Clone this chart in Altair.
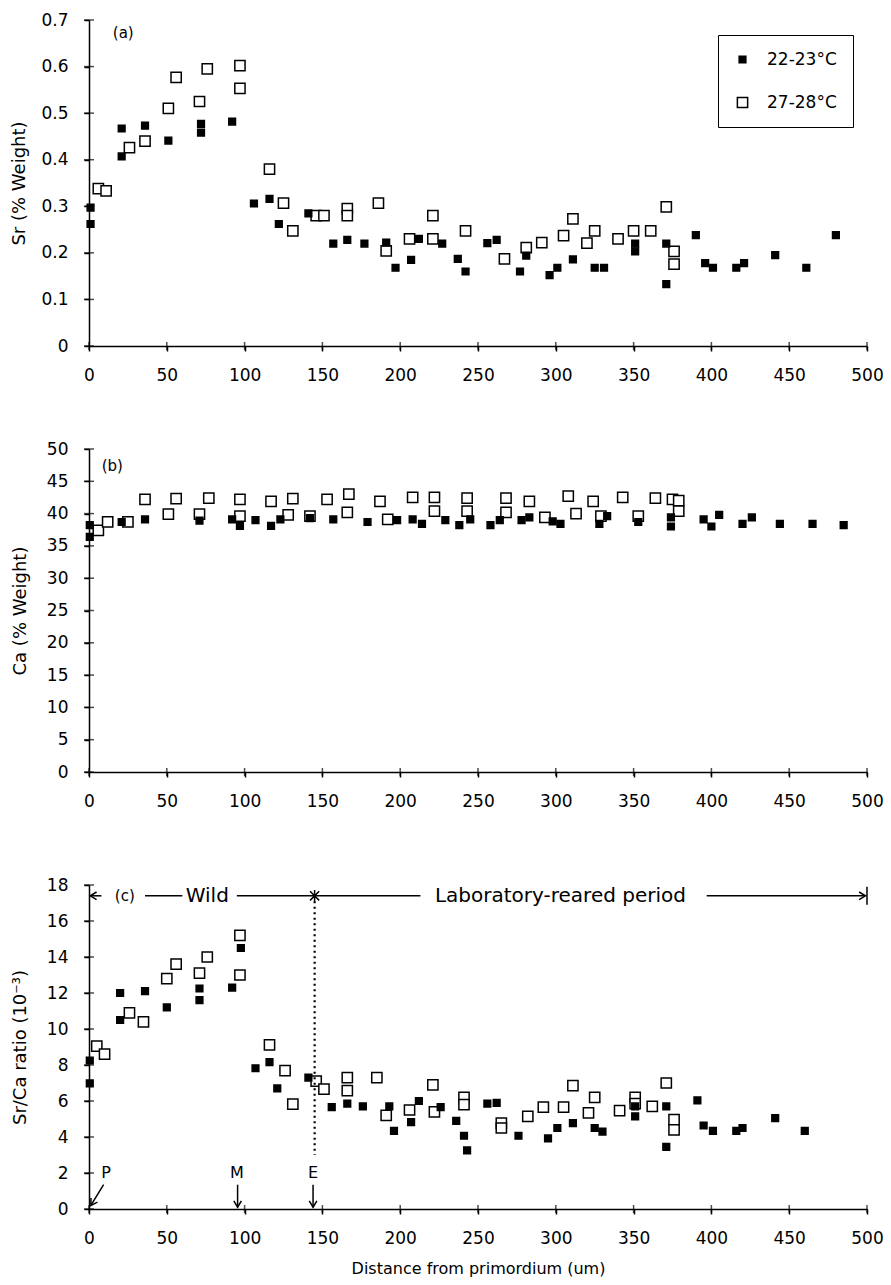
import altair as alt
import pandas as pd

FONT = "DejaVu Sans"
SERIES = ["22-23°C", "27-28°C"]

X_TICKS = [0, 50, 100, 150, 200, 250, 300, 350, 400, 450, 500]
A_TICKS = [0, 0.1, 0.2, 0.3, 0.4, 0.5, 0.6, 0.7]
B_TICKS = [0, 5, 10, 15, 20, 25, 30, 35, 40, 45, 50]
C_TICKS = [0, 2, 4, 6, 8, 10, 12, 14, 16, 18]

# ---------------- panel (a): Sr (% weight) ----------------
a_cool_x = [1, 1, 21, 21, 36, 51, 72, 72, 92, 106, 116, 122, 141, 157, 166, 177, 191, 197, 207, 212,
            227, 237, 242, 256, 262, 277, 281, 296, 301, 311, 325, 331, 351, 351, 371, 371, 390, 396,
            401, 416, 421, 441, 461, 480]
a_cool_y = [0.297, 0.262, 0.467, 0.407, 0.473, 0.441, 0.477, 0.458, 0.482, 0.306, 0.316, 0.262, 0.285,
            0.22, 0.228, 0.22, 0.222, 0.168, 0.185, 0.23, 0.22, 0.187, 0.16, 0.221, 0.228, 0.16, 0.194,
            0.152, 0.168, 0.186, 0.168, 0.168, 0.22, 0.203, 0.22, 0.133, 0.238, 0.178, 0.168, 0.168,
            0.178, 0.195, 0.168, 0.238]
a_warm_x = [6, 11, 26, 36, 51, 56, 71, 76, 97, 97, 116, 125, 131, 146, 151, 166, 166, 186, 191, 206,
            221, 221, 242, 267, 281, 291, 305, 311, 320, 325, 340, 350, 361, 371, 376, 376]
a_warm_y = [0.338, 0.333, 0.426, 0.44, 0.51, 0.577, 0.525, 0.595, 0.602, 0.553, 0.38, 0.307, 0.247,
            0.28, 0.28, 0.295, 0.28, 0.307, 0.204, 0.23, 0.28, 0.23, 0.247, 0.187, 0.211, 0.222, 0.237,
            0.273, 0.221, 0.247, 0.23, 0.247, 0.247, 0.299, 0.203, 0.176]

# ---------------- panel (b): Ca (% weight) ----------------
b_cool_x = [0.5, 0.5, 21, 36, 71, 92, 97, 107, 117, 123, 142, 157, 179, 198, 208, 214, 229, 238, 245,
            258, 264, 278, 283, 298, 303, 328, 333, 353, 374, 374, 395, 400, 405, 420, 426, 444, 465, 485]
b_cool_y = [38.2, 36.4, 38.7, 39.1, 38.9, 39.1, 38.1, 39, 38.1, 39.1, 39.3, 39.1, 38.7, 39, 39.1, 38.4,
            39, 38.2, 39.1, 38.2, 39, 39, 39.4, 38.8, 38.4, 38.4, 39.6, 38.7, 39.4, 38, 39.1, 38, 39.8,
            38.4, 39.4, 38.4, 38.4, 38.2]
b_warm_x = [6, 12, 25, 36, 51, 56, 71, 77, 97, 97, 117, 128, 131, 142, 153, 167, 166, 187, 192, 208,
            222, 222, 243, 243, 268, 268, 283, 293, 308, 313, 324, 329, 343, 353, 364, 375, 379, 379]
b_warm_y = [37.4, 38.7, 38.7, 42.2, 39.9, 42.3, 39.9, 42.4, 42.2, 39.6, 41.9, 39.8, 42.3, 39.6, 42.2,
            43, 40.2, 41.9, 39.1, 42.5, 42.5, 40.4, 42.4, 40.4, 42.4, 40.2, 41.9, 39.4, 42.7, 40, 41.9,
            39.6, 42.5, 39.6, 42.4, 42.2, 42, 40.4]

# ---------------- panel (c): Sr/Ca ratio ----------------
c_cool_x = [0.5, 0.5, 20, 20, 36, 50, 71, 71, 92, 97.6, 107, 116, 121, 141, 156, 166, 176, 193, 196,
            207, 212, 226, 236, 241, 243, 256, 262, 276, 295, 301, 311, 325, 330, 351, 351, 371, 371,
            391, 395, 401, 416, 420, 441, 460]
c_cool_y = [8.25, 6.98, 12.0, 10.5, 12.1, 11.2, 12.25, 11.6, 12.3, 14.5, 7.82, 8.16, 6.7, 7.3, 5.66,
            5.85, 5.7, 5.7, 4.34, 4.83, 6.0, 5.66, 4.9, 4.07, 3.26, 5.85, 5.9, 4.07, 3.92, 4.5, 4.77,
            4.5, 4.3, 5.7, 5.15, 5.7, 3.45, 6.04, 4.64, 4.34, 4.34, 4.5, 5.05, 4.34]
c_warm_x = [5, 10, 26, 35, 50, 56, 71, 76, 97, 97, 116, 126, 131, 146, 151, 166, 166, 185, 191, 206,
            221, 222, 241, 241, 265, 265, 282, 292, 305, 311, 321, 325, 341, 351, 351, 362, 371, 376, 376]
c_warm_y = [9.05, 8.6, 10.9, 10.4, 12.8, 13.6, 13.1, 14.0, 15.2, 13.0, 9.12, 7.69, 5.83, 7.1, 6.66,
            7.3, 6.57, 7.3, 5.2, 5.5, 6.9, 5.4, 6.2, 5.8, 4.77, 4.5, 5.15, 5.66, 5.66, 6.85, 5.34, 6.2,
            5.47, 6.2, 5.85, 5.7, 7.0, 4.96, 4.4]

# panel labels
PANEL_LABELS = ["(a)", "(b)"]
PANEL_LABEL_X = [22, 15]
PANEL_LABEL_Y = [0.672, 47.4]

# panel (c) annotations (data coordinates)
ANN_Y = 17.4
SEG_X = [1, 36, 95, 397, 500, 9.4, 95.5, 144]
SEG_X2 = [8, 60, 213, 498, 500, 1.2, 95.5, 144]
SEG_Y = [ANN_Y, ANN_Y, ANN_Y, ANN_Y, 16.9, 1.35, 1.35, 1.35]
SEG_Y2 = [ANN_Y, ANN_Y, ANN_Y, ANN_Y, 17.9, 0.2, 0.1, 0.1]
HEAD_X = [0.8, 499, 1.2, 95.5, 144]
HEAD_Y = [ANN_Y, ANN_Y, 0.2, 0.1, 0.1]
HEAD_ANGLE = [90, 270, 32, 0, 0]
DOT_X = [145]
DOT_Y = [17.1]
DOT_Y2 = [3.0]
STAR_X = [145]
STAR_Y = [ANN_Y]
BIG_TEXT = ["Wild", "Laboratory-reared period"]
BIG_TEXT_X = [76, 303]
SMALL_TEXT = ["(c)", "P", "M", "E"]
SMALL_TEXT_X = [23, 11, 95, 144]
SMALL_TEXT_Y = [ANN_Y, 2.0, 2.0, 2.0]
SMALL_TEXT_SIZE = [15, 16, 16, 16]

W = 778
HA, HB, HC = 326, 323, 324


def points_df(cx, cy, wx, wy):
    rows = [{"x": x, "y": y, "series": SERIES[1]} for x, y in zip(wx, wy)]
    rows += [{"x": x, "y": y, "series": SERIES[0]} for x, y in zip(cx, cy)]
    return pd.DataFrame(rows)


def panel(df, yticks, ymax, yfmt, ytitle, height, show_legend, xtitle=None):
    xscale = alt.Scale(domain=[0, 500], nice=False, zero=True)
    yscale = alt.Scale(domain=[0, ymax], nice=False, zero=True)
    if show_legend:
        leg = alt.Legend(title=None, orient="none", legendX=629, legendY=15, padding=16,
                         rowPadding=25, labelOffset=16, labelFont=FONT, labelFontSize=17,
                         labelColor="black", symbolType="square", symbolStrokeColor="black",
                         symbolStrokeWidth=1.5, strokeColor="black", fillColor="white")
    else:
        leg = None
    xaxis = alt.Axis(values=X_TICKS, format="d", title=xtitle if xtitle else None,
                     labelOverlap=False, labelFlush=False)
    yaxis = alt.Axis(values=yticks, format=yfmt, title=ytitle, labelOverlap=False,
                     labelFlush=False)
    pts = alt.Chart(df).mark_point(shape="square", filled=True, strokeWidth=1.5, opacity=1).encode(
        x=alt.X("x:Q", scale=xscale, axis=xaxis),
        y=alt.Y("y:Q", scale=yscale, axis=yaxis),
        fill=alt.Fill("series:N", scale=alt.Scale(domain=SERIES, range=["black", "white"]),
                      legend=leg),
        stroke=alt.Stroke("series:N", scale=alt.Scale(domain=SERIES, range=["black", "black"]),
                          legend=leg),
        size=alt.Size("series:N", scale=alt.Scale(domain=SERIES, range=[45, 105]),
                      legend=leg),
    )
    yt = alt.Chart(pd.DataFrame({"v": yticks})).mark_tick(
        orient="horizontal", size=10, thickness=1.5, color="black").encode(
        y=alt.Y("v:Q", scale=yscale, axis=yaxis), x=alt.value(0))
    xt = alt.Chart(pd.DataFrame({"v": X_TICKS})).mark_tick(
        orient="vertical", size=8, thickness=1.5, color="black").encode(
        x=alt.X("v:Q", scale=xscale, axis=xaxis), y=alt.value(height))
    return [pts, yt, xt], xscale, yscale, xaxis, yaxis


# panel (a)
layers_a, xs, ysa, xa, ya = panel(points_df(a_cool_x, a_cool_y, a_warm_x, a_warm_y), A_TICKS, 0.7,
                                  ".1~f", "Sr (% Weight)", HA, True)
lab_a = alt.Chart(pd.DataFrame({"t": [PANEL_LABELS[0]], "x": [PANEL_LABEL_X[0]],
                                "y": [PANEL_LABEL_Y[0]]})).mark_text(
    font=FONT, fontSize=15, color="black").encode(
    x=alt.X("x:Q", scale=xs, axis=xa), y=alt.Y("y:Q", scale=ysa, axis=ya), text="t:N")
chart_a = alt.layer(*layers_a, lab_a).properties(width=W, height=HA)

# panel (b)
layers_b, xs, ysb, xa, ya = panel(points_df(b_cool_x, b_cool_y, b_warm_x, b_warm_y), B_TICKS, 50,
                                  "d", "Ca (% Weight)", HB, False)
lab_b = alt.Chart(pd.DataFrame({"t": [PANEL_LABELS[1]], "x": [PANEL_LABEL_X[1]],
                                "y": [PANEL_LABEL_Y[1]]})).mark_text(
    font=FONT, fontSize=15, color="black").encode(
    x=alt.X("x:Q", scale=xs, axis=xa), y=alt.Y("y:Q", scale=ysb, axis=ya), text="t:N")
chart_b = alt.layer(*layers_b, lab_b).properties(width=W, height=HB)

# panel (c)
layers_c, xs, ysc, xa, ya = panel(points_df(c_cool_x, c_cool_y, c_warm_x, c_warm_y), C_TICKS, 18,
                                  "d", "Sr/Ca ratio (10⁻³)", HC, False,
                                  xtitle="Distance from primordium (um)")
X = lambda f: alt.X(f, scale=xs, axis=xa)
Y = lambda f: alt.Y(f, scale=ysc, axis=ya)
segs = alt.Chart(pd.DataFrame({"x": SEG_X, "x2": SEG_X2, "y": SEG_Y, "y2": SEG_Y2})).mark_rule(
    color="black", strokeWidth=1.5).encode(x=X("x:Q"), x2="x2:Q", y=Y("y:Q"), y2="y2:Q")
dots = alt.Chart(pd.DataFrame({"x": DOT_X, "y": DOT_Y, "y2": DOT_Y2})).mark_rule(
    color="black", strokeWidth=2.2, strokeDash=[2, 3.5]).encode(x=X("x:Q"), y=Y("y:Q"), y2="y2:Q")
heads = alt.Chart(pd.DataFrame({"x": HEAD_X, "y": HEAD_Y, "a": HEAD_ANGLE})).mark_point(
    shape="M-0.6,-1L0,0L0.6,-1", filled=False, stroke="black", strokeWidth=1.5, size=160,
    opacity=1).encode(x=X("x:Q"), y=Y("y:Q"), angle=alt.Angle("a:Q", scale=None))
star = alt.Chart(pd.DataFrame({"x": STAR_X, "y": STAR_Y})).mark_point(
    shape="M-0.8,-0.8L0.8,0.8M-0.8,0.8L0.8,-0.8M0,-1L0,1", filled=False, stroke="black",
    strokeWidth=1.5, size=130, opacity=1).encode(x=X("x:Q"), y=Y("y:Q"))
big = alt.Chart(pd.DataFrame({"t": BIG_TEXT, "x": BIG_TEXT_X, "y": [ANN_Y] * len(BIG_TEXT)})).mark_text(
    font=FONT, fontSize=20, color="black", baseline="middle").encode(
    x=X("x:Q"), y=Y("y:Q"), text="t:N")
small = alt.Chart(pd.DataFrame({"t": SMALL_TEXT, "x": SMALL_TEXT_X, "y": SMALL_TEXT_Y,
                                "s": SMALL_TEXT_SIZE})).mark_text(
    font=FONT, color="black", baseline="middle").encode(
    x=X("x:Q"), y=Y("y:Q"), text="t:N", size=alt.Size("s:Q", scale=None))
chart_c = alt.layer(*layers_c, segs, dots, heads, star, big, small).properties(width=W, height=HC)

inner = alt.vconcat(chart_a, chart_b, spacing=57).resolve_scale(
    fill="independent", size="independent", stroke="independent").resolve_legend(
    fill="independent", size="independent", stroke="independent")
chart = alt.vconcat(inner, chart_c, spacing=67).resolve_scale(
    fill="independent", size="independent", stroke="independent").resolve_legend(
    fill="independent", size="independent", stroke="independent")

chart = chart.properties(
    padding={"left": 10, "top": 11, "right": 5, "bottom": 5},
    background="white",
).configure_view(stroke=None).configure_axis(
    grid=False, domainColor="black", domainWidth=1.5, tickColor="black", tickWidth=1.5,
    tickSize=5, labelFont=FONT, labelFontSize=17, labelColor="black", labelPadding=16,
    titleFont=FONT, titleFontSize=18, titleFontWeight="normal", titleColor="black",
).configure_axisY(minExtent=48, titlePadding=12).configure_axisX(
    titleFontSize=16, titlePadding=14)

chart.save("out.html", embed_options={"renderer": "svg", "actions": False})
